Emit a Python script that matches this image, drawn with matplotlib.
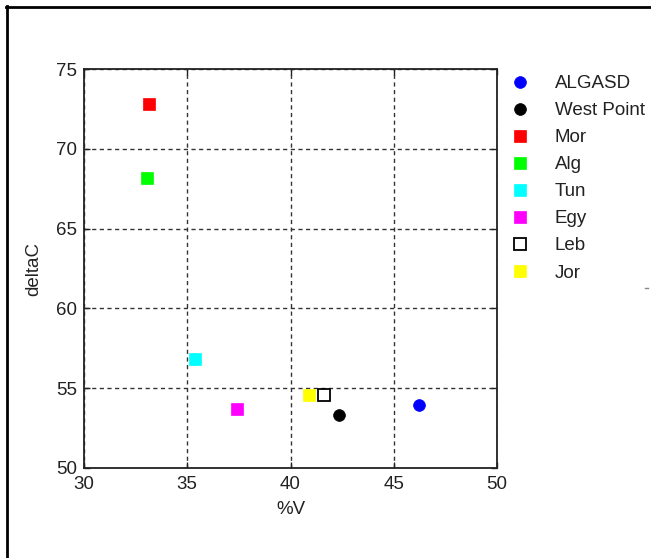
import matplotlib
matplotlib.use("Agg")
import matplotlib.pyplot as plt
from matplotlib.lines import Line2D

plt.rcParams['font.family'] = ['Liberation Sans', 'DejaVu Sans']

labels = ["ALGASD", "West Point", "Mor", "Alg", "Tun", "Egy", "Leb", "Jor"]
x_vals = [46.2, 42.37, 33.15, 33.05, 35.38, 37.41, 41.62, 40.90]
y_vals = [53.95, 53.32, 72.81, 68.17, 56.83, 53.70, 54.57, 54.57]
markers = ["o", "o", "s", "s", "s", "s", "s", "s"]
face_colors = ["#0000ff", "#000000", "#ff0000", "#00ff00", "#00ffff", "#ff00ff", "none", "#ffff00"]
edge_colors = ["#0000ff", "#000000", "#ff0000", "#00ff00", "#00ffff", "#ff00ff", "#000000", "#ffff00"]

x_ticks = [30, 35, 40, 45, 50]
y_ticks = [50, 55, 60, 65, 70, 75]

fig = plt.figure(figsize=(6.51, 5.58), dpi=100)
ax = fig.add_axes([84/651, 1 - 468/558, (497-84)/651, (468-69)/558])

for lab, xv, yv, m, fc, ec in zip(labels, x_vals, y_vals, markers, face_colors, edge_colors):
    ax.plot([xv], [yv], linestyle="none", marker=m, markersize=8.5,
            markerfacecolor=fc, markeredgecolor=ec, markeredgewidth=1.3 if fc == "none" else 0.5,
            label=lab, zorder=3)

ax.set_xlim(30, 50)
ax.set_ylim(50, 75)
ax.set_xticks(x_ticks)
ax.set_yticks(y_ticks)
ax.tick_params(direction="in", length=4, width=1, labelsize=13.5, top=True, right=True,
               colors="#222222", labelcolor="#222222")
ax.tick_params(axis="x", pad=5.5)
ax.tick_params(axis="y", pad=5)
ax.grid(True, color="#333333", linestyle=(0, (3, 2.5)), linewidth=1.0)
for s in ax.spines.values():
    s.set_linewidth(1.3)
    s.set_color("#222222")

ax.set_xlabel("%V", fontsize=13.5, labelpad=6, color="#222222")
ax.set_ylabel("deltaC", fontsize=13.5, labelpad=10, color="#222222")

leg = ax.legend(loc="upper left", bbox_to_anchor=(510.5/651, 1 - 75/558),
                bbox_transform=fig.transFigure, frameon=False, fontsize=13.5,
                handlelength=1.0, handletextpad=1.37, labelspacing=0.53,
                borderaxespad=0, borderpad=0, numpoints=1)
for t in leg.get_texts():
    t.set_color("#222222")

# figure frame lines (top and left)
fig.add_artist(Line2D([6/651, 1], [1 - 7/558, 1 - 7/558], transform=fig.transFigure,
                      color="black", linewidth=2.0))
fig.add_artist(Line2D([7/651, 7/651], [0, 1 - 6/558], transform=fig.transFigure,
                      color="black", linewidth=2.0))
fig.add_artist(Line2D([645/651, 648/651], [1 - 288/558, 1 - 288/558], transform=fig.transFigure,
                      color="#888888", linewidth=1.0))

fig.savefig("out.png", dpi=100)
